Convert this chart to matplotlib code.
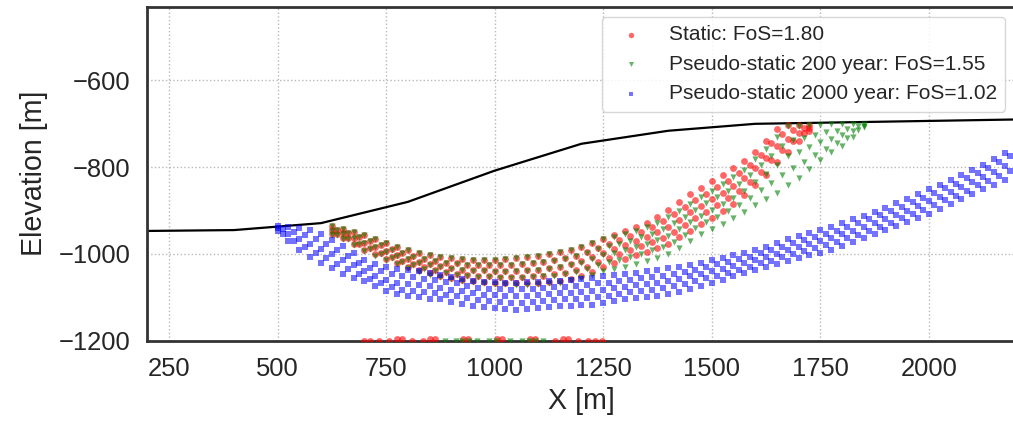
import matplotlib
matplotlib.use("Agg")
import matplotlib.pyplot as plt

# ---------------- data ----------------
ground_x = [200, 400, 600, 800, 1000, 1200, 1400, 1600, 2200]
ground_y = [-947, -945, -929, -880, -808, -746, -716, -700, -690]

# ---- Static (red): rows of points across the band ----
red_x = [625, 650, 675, 700, 725, 750, 775, 800, 825, 850, 875, 900, 925, 950, 975,
         1000, 1025, 1050, 1075, 1100, 1125, 1150, 1175, 1200, 1225, 1250, 1275, 1300,
         1325, 1350, 1375, 1400, 1425, 1450, 1475, 1500, 1525, 1550, 1575, 1600, 1625,
         1650, 1675, 1700, 1725]
red_top = [-936, -942, -949, -957, -966, -975, -984, -992, -998, -1003, -1007, -1010, -1012,
           -1013, -1013, -1013, -1012, -1010, -1007, -1004, -1000, -996, -990, -984, -975,
           -965, -957, -948, -938, -928, -915, -898, -880, -862, -848, -832, -818, -803,
           -785, -766, -740, -712, -702, -702, -702]
red_mid = [-945, -952, -963, -974, -984, -994, -1002, -1011, -1018, -1024, -1028, -1032, -1036,
           -1038, -1038, -1040, -1040, -1039, -1038, -1036, -1032, -1030, -1024, -1017, -1008,
           -998, -989, -980, -970, -962, -950, -938, -921, -904, -890, -874, -860, -844,
           -824, -803, -778, -750, -734, -721, -709]
red_bot = [-954, -963, -977, -990, -1001, -1012, -1021, -1030, -1038, -1045, -1050, -1055, -1059,
           -1062, -1064, -1066, -1067, -1068, -1068, -1067, -1065, -1063, -1057, -1050, -1041,
           -1031, -1021, -1012, -1003, -995, -986, -977, -962, -947, -932, -917, -901, -885,
           -863, -840, -817, -788, -765, -740, -716]
red_xs = [637.5, 662.5, 687.5, 712.5, 737.5, 762.5, 787.5, 812.5, 837.5, 862.5, 887.5, 912.5,
          937.5, 962.5, 987.5, 1012.5, 1037.5, 1062.5, 1087.5, 1112.5, 1137.5, 1162.5, 1187.5,
          1212.5, 1237.5, 1262.5, 1287.5, 1312.5, 1337.5, 1362.5, 1387.5, 1412.5, 1437.5,
          1462.5, 1487.5, 1512.5, 1537.5, 1562.5, 1587.5, 1612.5, 1637.5, 1662.5, 1687.5, 1712.5]
red_q1 = [-944, -952, -961, -970, -980, -988, -998, -1005, -1011, -1016, -1020, -1022, -1025,
          -1026, -1026, -1026, -1025, -1023, -1021, -1018, -1014, -1010, -1004, -996, -987, -978,
          -968, -959, -950, -938, -925, -909, -892, -876, -861, -846, -832, -814, -794, -772,
          -745, -724, -715, -709]
red_q3 = [-954, -964, -976, -987, -998, -1008, -1016, -1024, -1031, -1036, -1042, -1046, -1049,
          -1050, -1052, -1054, -1054, -1054, -1052, -1050, -1047, -1043, -1037, -1029, -1019,
          -1010, -1000, -991, -982, -973, -963, -950, -934, -918, -904, -888, -872, -854, -833,
          -810, -784, -760, -740, -721]
red_floor_x = [698, 712, 733, 756, 776, 786, 809, 834, 852, 862, 928, 938, 1006, 1016,
               1082, 1092, 1138, 1158, 1168, 1191, 1214, 1232, 1248]
red_floor_y = [-1200, -1200, -1200, -1200, -1197, -1197, -1200, -1200, -1197, -1197, -1197,
               -1197, -1197, -1197, -1197, -1197, -1200, -1197, -1197, -1200, -1200, -1200, -1200]

# ---- Pseudo-static 200 year (green) ----
green_x = [625, 650, 675, 700, 725, 750, 775, 800, 825, 850, 875, 900, 925, 950, 975,
           1000, 1025, 1050, 1075, 1100, 1125, 1150, 1175, 1200, 1225, 1250, 1275, 1300,
           1325, 1350, 1375, 1400, 1425, 1450, 1475, 1500, 1525, 1550, 1575, 1600, 1625,
           1650, 1675, 1700, 1725, 1750, 1775, 1800, 1825, 1850]
green_top = [-936, -942, -949, -957, -966, -975, -984, -992, -998, -1003, -1007, -1010, -1012,
             -1013, -1013, -1013, -1012, -1010, -1007, -1004, -1000, -996, -990, -984, -975,
             -965, -962, -955, -946, -938, -928, -915, -900, -884, -869, -854, -839, -823,
             -806, -780, -757, -730, -706, -705, -703, -702, -701, -701, -701, -700]
green_mid = [-946, -954, -964, -975, -985, -995, -1004, -1012, -1020, -1026, -1030, -1034, -1037,
             -1039, -1040, -1041, -1041, -1040, -1039, -1037, -1034, -1031, -1026, -1020, -1012,
             -1002, -998, -992, -984, -977, -968, -958, -943, -927, -912, -898, -884, -870,
             -855, -834, -816, -794, -774, -765, -754, -743, -734, -726, -716, -704]
green_bot = [-957, -966, -980, -993, -1004, -1015, -1024, -1033, -1041, -1048, -1053, -1058, -1062,
             -1065, -1067, -1069, -1070, -1071, -1071, -1070, -1068, -1066, -1061, -1055, -1048,
             -1040, -1034, -1029, -1023, -1016, -1009, -1001, -986, -970, -955, -943, -930, -917,
             -904, -888, -874, -859, -842, -825, -805, -784, -766, -752, -731, -708]
green_xs = [637.5, 662.5, 687.5, 712.5, 737.5, 762.5, 787.5, 812.5, 837.5, 862.5, 887.5, 912.5,
            937.5, 962.5, 987.5, 1012.5, 1037.5, 1062.5, 1087.5, 1112.5, 1137.5, 1162.5, 1187.5,
            1212.5, 1237.5, 1262.5, 1287.5, 1312.5, 1337.5, 1362.5, 1387.5, 1412.5, 1437.5,
            1462.5, 1487.5, 1512.5, 1537.5, 1562.5, 1587.5, 1612.5, 1637.5, 1662.5, 1687.5,
            1712.5, 1737.5, 1762.5, 1787.5, 1812.5, 1837.5]
green_q1 = [-944, -952, -961, -971, -980, -990, -998, -1006, -1012, -1016, -1020, -1023, -1025,
            -1026, -1026, -1026, -1026, -1024, -1022, -1018, -1016, -1011, -1005, -998, -989,
            -982, -977, -970, -962, -953, -942, -929, -914, -898, -883, -869, -854, -838, -818,
            -796, -774, -751, -738, -732, -725, -720, -716, -711, -705]
green_q3 = [-956, -966, -978, -989, -1000, -1010, -1018, -1026, -1034, -1040, -1044, -1048, -1051,
            -1053, -1054, -1056, -1056, -1056, -1054, -1052, -1050, -1046, -1041, -1034, -1026,
            -1018, -1013, -1007, -1000, -992, -984, -972, -956, -941, -927, -914, -900, -887,
            -870, -853, -836, -817, -802, -788, -772, -757, -744, -732, -715]
green_floor_x = [885, 910, 926, 942, 960, 986, 1004, 1036, 1062, 1080, 1094, 1112]
green_floor_y = [-1200, -1200, -1200, -1200, -1200, -1200, -1200, -1200, -1200, -1200, -1200, -1200]

# ---- Pseudo-static 2000 year (blue) ----
blue_x = [500, 525, 550, 575, 600, 625, 650, 675, 700, 725, 750, 775, 800, 825, 850, 875,
          900, 925, 950, 975, 1000, 1025, 1050, 1075, 1100, 1125, 1150, 1175, 1200, 1225,
          1250, 1275, 1300, 1325, 1350, 1375, 1400, 1425, 1450, 1475, 1500, 1525, 1550,
          1575, 1600, 1625, 1650, 1675, 1700, 1725, 1750, 1775, 1800, 1825, 1850, 1875,
          1900, 1925, 1950, 1975, 2000, 2025, 2050, 2075, 2100, 2125, 2150, 2175, 2200]
blue_top = [-936, -938, -941, -945, -955, -968, -982, -997, -1014, -1024, -1030, -1034, -1036,
            -1040, -1044, -1048, -1053, -1058, -1062, -1064, -1065,
            -1066, -1066, -1065, -1064, -1063, -1062, -1060, -1058, -1055, -1052, -1049, -1046,
            -1043, -1040, -1037, -1033, -1029, -1025, -1020, -1014,
            -1009, -1003, -997, -990, -983, -975, -966, -958, -952, -945, -937, -928, -920,
            -912, -903, -893, -883, -873, -862, -851,
            -840, -829, -818, -806, -795, -782, -767, -750]
blue_mid = [-941, -954, -966, -976, -988, -1000, -1014, -1026, -1040, -1051, -1061, -1066, -1070,
            -1072, -1075, -1078, -1082, -1086, -1090, -1094, -1095,
            -1096, -1098, -1096, -1094, -1092, -1091, -1090, -1088, -1086, -1082, -1079, -1076,
            -1072, -1070, -1066, -1062, -1058, -1052, -1046, -1040,
            -1034, -1028, -1021, -1014, -1007, -1000, -992, -984, -978, -971, -964, -955, -946,
            -938, -929, -919, -910, -900, -890, -879,
            -868, -857, -846, -834, -822, -811, -798, -784]
blue_bot = [-946, -970, -992, -1006, -1020, -1032, -1047, -1055, -1063, -1075, -1086, -1093, -1097,
            -1100, -1103, -1105, -1110, -1115, -1119, -1123, -1125,
            -1127, -1129, -1127, -1124, -1122, -1120, -1119, -1118, -1117, -1113, -1109, -1105,
            -1102, -1099, -1096, -1092, -1087, -1080, -1073, -1066,
            -1059, -1052, -1045, -1038, -1031, -1024, -1017, -1009, -1003, -997, -990, -982, -973,
            -964, -955, -945, -936, -927, -917, -907,
            -896, -885, -873, -861, -850, -840, -829, -818]
blue_xs = [512.5, 537.5, 562.5, 587.5, 612.5, 637.5, 662.5, 687.5, 712.5, 737.5, 762.5, 787.5,
           812.5, 837.5, 862.5, 887.5, 912.5, 937.5, 962.5, 987.5,
           1012.5, 1037.5, 1062.5, 1087.5, 1112.5, 1137.5, 1162.5, 1187.5, 1212.5, 1237.5,
           1262.5, 1287.5, 1312.5, 1337.5, 1362.5, 1387.5, 1412.5, 1437.5, 1462.5, 1487.5,
           1512.5, 1537.5, 1562.5, 1587.5, 1612.5, 1637.5, 1662.5, 1687.5, 1712.5, 1737.5,
           1762.5, 1787.5, 1812.5, 1837.5, 1862.5, 1887.5, 1912.5, 1937.5, 1962.5, 1987.5,
           2012.5, 2037.5, 2062.5, 2087.5, 2112.5, 2137.5, 2162.5, 2187.5]
blue_q1 = [-942, -950, -957, -966, -978, -991, -1005, -1020, -1032, -1040, -1046, -1050, -1053,
           -1057, -1060, -1064, -1068, -1074, -1078, -1080,
           -1080, -1082, -1081, -1080, -1078, -1077, -1076, -1074, -1072, -1068, -1066, -1062,
           -1060, -1056, -1054, -1050, -1046, -1041, -1036, -1030,
           -1024, -1019, -1012, -1006, -998, -992, -984, -975, -968, -962, -954, -946, -938,
           -929, -920, -911, -901, -891, -881, -870,
           -860, -848, -838, -826, -814, -802, -789, -774]
blue_q3 = [-953, -970, -985, -998, -1010, -1023, -1035, -1046, -1058, -1068, -1077, -1082, -1085,
           -1088, -1090, -1094, -1098, -1102, -1106, -1109,
           -1111, -1113, -1113, -1110, -1108, -1106, -1105, -1104, -1102, -1100, -1096, -1092,
           -1088, -1086, -1082, -1079, -1074, -1069, -1063, -1056,
           -1050, -1043, -1036, -1030, -1022, -1016, -1008, -1000, -993, -987, -980, -972, -964,
           -956, -946, -937, -928, -918, -909, -898,
           -888, -876, -866, -854, -842, -831, -820, -808]

labels = ["Static: FoS=1.80",
          "Pseudo-static 200 year: FoS=1.55",
          "Pseudo-static 2000 year: FoS=1.02"]
x_ticks = [250, 500, 750, 1000, 1250, 1500, 1750, 2000]
y_ticks = [-600, -800, -1000, -1200]

# ---------------- figure ----------------
plt.rcParams['font.family'] = ['Liberation Sans', 'DejaVu Sans']
text_color = '#262626'

fig = plt.figure(figsize=(10.13, 4.22), dpi=100)
ax = fig.add_axes([0.1454, 0.1927, 0.8572, 0.7914])

ax.plot(ground_x, ground_y, color='black', lw=1.6, zorder=2)

rx = red_x * 3 + red_xs * 2 + red_floor_x
ry = red_top + red_mid + red_bot + red_q1 + red_q3 + red_floor_y
gx = green_x * 3 + green_xs * 2 + green_floor_x
gy = green_top + green_mid + green_bot + green_q1 + green_q3 + green_floor_y
bx = blue_x * 3 + blue_xs * 2
by = blue_top + blue_mid + blue_bot + blue_q1 + blue_q3

ax.scatter(rx, ry, s=24, marker='o', color='red', alpha=0.6, linewidths=0,
           label=labels[0], zorder=3)
ax.scatter(gx, gy, s=20, marker='v', color='green', alpha=0.6, linewidths=0,
           label=labels[1], zorder=3)
ax.scatter(bx, by, s=18, marker='s', color='blue', alpha=0.55, linewidths=0,
           label=labels[2], zorder=3)

ax.set_xlim(200, 2200)
ax.set_ylim(-1200, -430)
ax.set_xticks(x_ticks)
ax.set_yticks(y_ticks)
ax.tick_params(axis='both', length=0, pad=12, labelsize=18.4, colors=text_color)
ax.grid(True, linestyle=':', color='#b8b8b8', linewidth=1.0, zorder=0)
ax.set_axisbelow(True)
for sp in ax.spines.values():
    sp.set_color('#333333')
    sp.set_linewidth(2.0)

ax.set_xlabel('X [m]', fontsize=20.6, color=text_color, labelpad=4)
ax.set_ylabel('Elevation [m]', fontsize=20.6, color=text_color, labelpad=8)

leg = ax.legend(loc='upper right', fontsize=15, frameon=True, framealpha=0.85,
                edgecolor='#d0d0d0', fancybox=True, borderaxespad=0.5,
                markerscale=0.8)
for t in leg.get_texts():
    t.set_color(text_color)

fig.savefig('out.png', dpi=100)
